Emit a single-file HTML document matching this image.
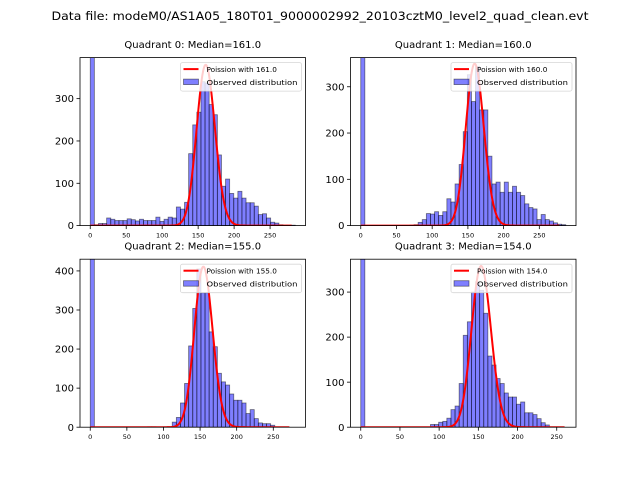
<!DOCTYPE html>
<html><head><meta charset="utf-8"><style>
html,body{margin:0;padding:0;background:#fff;}
svg{display:block;font-family:"DejaVu Sans","Liberation Sans",sans-serif;}
</style></head><body>
<svg id="fig" width="640" height="480" viewBox="0 0 640 480">
<text x="320" y="20" text-anchor="middle" font-size="11.5" textLength="537" lengthAdjust="spacingAndGlyphs">Data file: modeM0/AS1A05_180T01_9000002992_20103cztM0_level2_quad_clean.evt</text>
</svg>
<script>
// ---- data ----
const quadrantNames = ["Quadrant 0","Quadrant 1","Quadrant 2","Quadrant 3"];
const medians = [161.0, 160.0, 155.0, 154.0];
const binWidths = [5.7, 5.74, 5.6, 5.23];
const zeroBinCounts = [1200, 1200, 1200, 1200];
const counts0 = [0,2,5,5,18,15,12,12,12,16,14,11,15,12,12,12,20,10,15,20,18,44,39,55,170,238,268,340,337,286,262,167,93,110,76,65,81,65,54,54,46,26,28,18,8,6,2,1,1,1];
const counts1 = [0,0,0,0,0,0,0,0,0,0,0,0,1,2,7,13,26,25,30,22,30,58,51,90,132,203,326,268,344,250,250,150,90,94,72,94,72,85,72,65,47,39,36,13,24,13,10,6,3,2];
const counts2 = [0,0,0,0,0,0,0,0,0,0,0,0,0,0,1,1,0,0,1,1,13,25,62,112,208,304,405,344,344,244,206,138,116,108,85,69,69,62,35,45,22,11,9,9,5,0,0,0,0,0];
const counts3 = [0,0,0,0,0,0,0,0,0,0,0,0,0,0,0,0,0,6,6,11,13,20,39,47,97,204,234,300,323,304,253,158,138,108,97,76,67,67,51,56,32,32,28,19,10,5,0,0,0,0];
const poissonPeaks = [380, 350, 411, 358];
const curveMax = [280, 278, 272, 260];
const yMaxes = [397, 363, 430, 373];
const xTicks = [0,50,100,150,200,250];
const yTicks0 = [0,100,200,300];
const yTicks1 = [0,100,200,300];
const yTicks2 = [0,100,200,300,400];
const yTicks3 = [0,100,200,300];
const allCounts = [counts0,counts1,counts2,counts3];
const allYTicks = [yTicks0,yTicks1,yTicks2,yTicks3];

const NS = "http://www.w3.org/2000/svg";
const svg = document.getElementById("fig");
function mk(tag, attrs, parent){
  const e = document.createElementNS(NS, tag);
  for (const k in attrs) e.setAttribute(k, attrs[k]);
  (parent||svg).appendChild(e);
  return e;
}
const boxes = [
  {x:80, y:57.6, w:225.5, h:168},
  {x:350.5, y:57.6, w:225.5, h:168},
  {x:80, y:259.2, w:225.5, h:168},
  {x:350.5, y:259.2, w:225.5, h:168}
];
function logGamma(n){ let s=0; for(let i=2;i<=n;i++) s+=Math.log(i); return s; }

for (let q=0;q<4;q++){
  const b = boxes[q];
  const counts = allCounts[q];
  const bw = binWidths[q];
  const xmaxData = bw*counts.length;
  const x0 = -0.05*xmaxData, x1 = 1.05*xmaxData;
  const X = v => b.x + (v - x0)/(x1 - x0)*b.w;
  const Y = v => b.y + b.h - v/yMaxes[q]*b.h;
  const g = mk("g", {});
  
  
  const cp = mk("clipPath", {id:"clip"+q}, g);
  mk("rect", {x:b.x, y:b.y, width:b.w, height:b.h}, cp);
  const plot = mk("g", {"clip-path":"url(#clip"+q+")"}, g);
  const vals = counts.slice(); vals[0] = zeroBinCounts[q] + counts[0];
  for (let i=0;i<vals.length;i++){
    if (vals[i] <= 0) continue;
    const r = mk("rect", {x:X(i*bw), y:Y(vals[i]), width:X((i+1)*bw)-X(i*bw), height:Y(0)-Y(vals[i]),
      fill:"rgba(0,0,255,0.5)", stroke:"rgba(0,0,0,0.5)", "stroke-width":"0.8"}, plot);
    
    
  }
  const lam = medians[q];
  const scale = poissonPeaks[q] * Math.sqrt(2*Math.PI*lam);
  let d = "";
  for (let k=0;k<=curveMax[q];k++){
    const p = Math.exp(k*Math.log(lam) - lam - logGamma(k));
    d += (k?"L":"M") + X(k).toFixed(2) + "," + Y(scale*p).toFixed(2);
  }
  const path = mk("path", {d:d, fill:"none", stroke:"#ff0000", "stroke-width":"2", "stroke-linejoin":"round"}, plot);
  
  
  const fr = mk("rect", {x:b.x, y:b.y, width:b.w, height:b.h, fill:"none", stroke:"#000", "stroke-width":"0.8"}, g);
  
  
  for (const t of xTicks){
    const xx = X(t);
    mk("line", {x1:xx, x2:xx, y1:b.y+b.h, y2:b.y+b.h+3.5, stroke:"#000", "stroke-width":"0.8"}, g);
    const tl = mk("text", {x:xx, y:b.y+b.h+12, "font-size":"6.5", "text-anchor":"middle"}, g);
    tl.textContent = t;
    
    
  }
  for (const t of allYTicks[q]){
    const yy = Y(t);
    mk("line", {x1:b.x-3.5, x2:b.x, y1:yy, y2:yy, stroke:"#000", "stroke-width":"0.8"}, g);
    const tl = mk("text", {x:b.x-6, y:yy+3.6, "font-size":"10", "text-anchor":"end"}, g);
    tl.textContent = t;
    
    
  }
  const tt = mk("text", {x:b.x+b.w/2, y:b.y-9.5, "font-size":"10", "text-anchor":"middle"}, g);
  tt.textContent = quadrantNames[q] + ": Median=" + medians[q].toFixed(1);
  
  
  const lg = mk("g", {}, g);
  
  
  const lx = b.x+b.w-125, ly = b.y+5;
  mk("rect", {x:lx, y:ly, width:121, height:28.5, rx:2, fill:"rgba(255,255,255,0.8)", stroke:"rgba(204,204,204,0.8)", "stroke-width":"0.8"}, lg);
  mk("line", {x1:lx+3, x2:lx+18, y1:ly+6.5, y2:ly+6.5, stroke:"#ff0000", "stroke-width":"2"}, lg);
  const t1 = mk("text", {x:lx+26, y:ly+9.5, "font-size":"7.3"}, lg);
  t1.textContent = "Poission with " + medians[q].toFixed(1);
  
  
  mk("rect", {x:lx+3, y:ly+16.5, width:15, height:5.5, fill:"rgba(0,0,255,0.5)", stroke:"rgba(0,0,0,0.5)", "stroke-width":"0.8"}, lg);
  const t2 = mk("text", {x:lx+26, y:ly+22.5, "font-size":"7.3", textLength:"91", lengthAdjust:"spacingAndGlyphs"}, lg);
  t2.textContent = "Observed distribution";
  
  
}
</script>
</body></html>
